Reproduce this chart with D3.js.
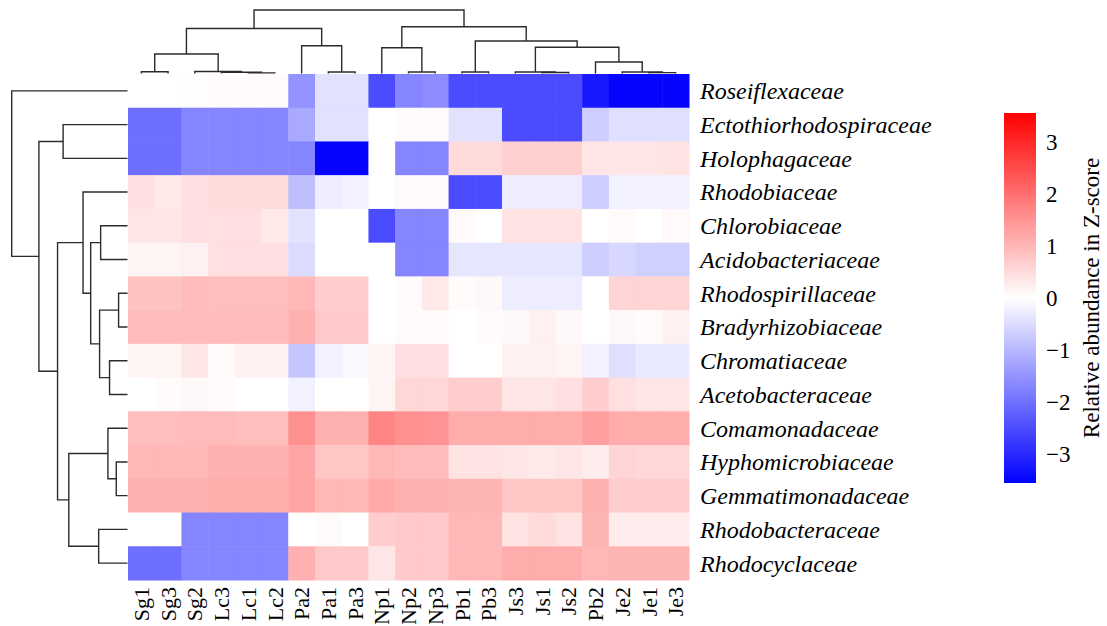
<!DOCTYPE html>
<html lang="en">
<head>
<meta charset="utf-8">
<title>Heatmap</title>
<script src="https://cdn.jsdelivr.net/npm/d3@7"></script>
<style>
  body { margin: 0; background: #fff; }
  text { font-family: "Liberation Serif", "Times New Roman", serif; fill: #000; }
  .row-label { font-style: italic; font-size: 24px; }
  .col-label { font-size: 22px; }
  .dendro path { fill: none; stroke: #2b2b2b; stroke-width: 1.4px; }
  .legend text { font-size: 23px; }
</style>
</head>
<body>
<div id="chart"></div>
<script>
// samples (column order as drawn)
var columns = ["Sg1","Sg3","Sg2","Lc3","Lc1","Lc2","Pa2","Pa1","Pa3","Np1","Np2","Np3",
               "Pb1","Pb3","Js3","Js1","Js2","Pb2","Je2","Je1","Je3"];

var families = ["Roseiflexaceae","Ectothiorhodospiraceae","Holophagaceae","Rhodobiaceae",
  "Chlorobiaceae","Acidobacteriaceae","Rhodospirillaceae","Bradyrhizobiaceae","Chromatiaceae",
  "Acetobacteraceae","Comamonadaceae","Hyphomicrobiaceae","Gemmatimonadaceae",
  "Rhodobacteraceae","Rhodocyclaceae"];

// z-scores, one row per family
var zscores = [
  [0, 0, 0.02, 0.05, 0.05, 0.05, -1.5, -0.4, -0.4, -2.5, -1.7, -1.6, -2.5, -2.5, -2.5, -2.5, -2.5, -3.2, -3.5, -3.5, -3.5],
  [-2.0, -2.0, -1.7, -1.7, -1.7, -1.7, -1.2, -0.4, -0.4, 0, 0.05, 0.05, -0.4, -0.4, -2.5, -2.5, -2.5, -0.7, -0.45, -0.45, -0.45],
  [-2.0, -2.0, -1.7, -1.7, -1.7, -1.7, -1.7, -3.5, -3.5, 0, -1.7, -1.7, 0.5, 0.5, 0.65, 0.65, 0.65, 0.35, 0.35, 0.35, 0.4],
  [0.45, 0.3, 0.45, 0.5, 0.5, 0.5, -0.9, -0.25, -0.2, 0, 0.08, 0.08, -2.5, -2.5, -0.25, -0.25, -0.25, -0.7, -0.2, -0.2, -0.2],
  [0.35, 0.35, 0.45, 0.45, 0.45, 0.3, -0.4, 0, 0, -2.5, -1.7, -1.7, 0.08, 0, 0.4, 0.4, 0.4, 0, 0.08, 0, 0.08],
  [0.15, 0.15, 0.2, 0.45, 0.45, 0.45, -0.5, 0, 0, 0, -1.7, -1.7, -0.35, -0.35, -0.35, -0.35, -0.35, -0.7, -0.55, -0.65, -0.65],
  [0.85, 0.85, 0.95, 0.9, 0.9, 0.9, 1.0, 0.7, 0.7, 0, 0.05, 0.3, 0.05, 0.1, -0.25, -0.25, -0.25, 0, 0.6, 0.6, 0.6],
  [0.95, 0.95, 0.95, 0.95, 0.95, 0.95, 1.1, 0.75, 0.75, 0, 0.05, 0.05, 0, 0.05, 0.1, 0.2, 0.1, 0, 0.1, 0.05, 0.2],
  [0.15, 0.15, 0.35, 0.05, 0.2, 0.2, -0.8, -0.2, -0.1, 0.15, 0.45, 0.45, 0, 0, 0.2, 0.2, 0.15, -0.2, -0.45, -0.3, -0.3],
  [0, 0.05, 0.1, 0.05, 0, 0, -0.2, 0, 0, 0.15, 0.55, 0.55, 0.7, 0.7, 0.35, 0.35, 0.45, 0.7, 0.45, 0.35, 0.35],
  [0.9, 0.9, 0.95, 0.95, 0.9, 0.9, 1.55, 1.1, 1.1, 1.7, 1.55, 1.5, 1.15, 1.15, 1.15, 1.15, 1.15, 1.35, 1.15, 1.15, 1.15],
  [1.0, 1.0, 1.0, 1.1, 1.1, 1.1, 1.25, 0.8, 0.8, 1.0, 0.95, 0.95, 0.4, 0.4, 0.35, 0.3, 0.35, 0.25, 0.6, 0.55, 0.55],
  [1.1, 1.1, 1.1, 1.15, 1.15, 1.15, 1.25, 1.0, 1.0, 1.2, 1.1, 1.1, 1.05, 1.05, 0.8, 0.8, 0.8, 1.1, 0.7, 0.7, 0.7],
  [0, 0, -1.7, -1.7, -1.7, -1.7, 0, 0.05, 0, 0.7, 0.75, 0.75, 1.0, 1.0, 0.4, 0.5, 0.4, 1.05, 0.25, 0.25, 0.25],
  [-2.0, -2.0, -1.7, -1.7, -1.7, -1.7, 1.1, 0.75, 0.75, 0.35, 0.75, 0.75, 1.0, 1.0, 1.15, 1.15, 1.15, 1.0, 1.05, 1.05, 1.05]
];

// clustering trees: [height, left, right], leaves are names
var colTree = [10,
  [7.09,
    [3.07, [0.28, "Sg1", "Sg3"], [0.31, "Sg2", [0.2, "Lc3", [0.1, "Lc1", "Lc2"]]]],
    [4.38, "Pa2", [0.24, "Pa1", "Pa3"]]],
  [7.37,
    [4.06, "Np1", [0.24, "Np2", "Np3"]],
    [5.12, [0.24, "Pb1", "Pb3"],
      [4.13, [0.24, "Js3", [0.16, "Js1", "Js2"]],
             [1.81, "Pb2", [0.24, "Je2", [0.14, "Je1", "Je3"]]]]]]];

var rowTree = [10, "Roseiflexaceae",
  [7.65,
    [5.56, "Ectothiorhodospiraceae", "Holophagaceae"],
    [6.04,
      [3.84, "Rhodobiaceae",
        [3.18, [2.32, "Chlorobiaceae", "Acidobacteriaceae"],
               [2.41, [0.77, "Rhodospirillaceae", "Bradyrhizobiaceae"],
                      [1.55, "Chromatiaceae", "Acetobacteraceae"]]]],
      [5.07,
        [1.69, "Comamonadaceae", [0.97, "Hyphomicrobiaceae", "Gemmatimonadaceae"]],
        [2.49, "Rhodobacteraceae", "Rhodocyclaceae"]]]]];

var legendTicks = [3, 2, 1, 0, -1, -2, -3];

var W = 1107, H = 626;
var svg = d3.select("#chart").append("svg")
    .attr("width", W).attr("height", H);

var x = d3.scaleBand().domain(columns).range([128, 689]);
var y = d3.scaleBand().domain(families).range([74, 580]);
var color = d3.scaleLinear().domain([-3.55, 0, 3.55])
    .range(["#0000ff", "#ffffff", "#ff0000"]);

// cells
var cells = [];
zscores.forEach(function(row, i) {
  row.forEach(function(v, j) {
    cells.push({ fam: families[i], col: columns[j], v: v });
  });
});

svg.append("g").selectAll("rect")
  .data(cells)
  .enter().append("rect")
    .attr("x", function(d) { return x(d.col); })
    .attr("y", function(d) { return y(d.fam); })
    .attr("width", x.bandwidth() + 0.5)
    .attr("height", y.bandwidth() + 0.5)
    .attr("fill", function(d) { return color(d.v); });

// labels
svg.append("g").selectAll("text")
  .data(families)
  .enter().append("text")
    .attr("class", "row-label")
    .attr("x", 700)
    .attr("y", function(d) { return y(d) + y.bandwidth() / 2; })
    .attr("dy", "0.35em")
    .text(function(d) { return d; });

svg.append("g").selectAll("text")
  .data(columns)
  .enter().append("text")
    .attr("class", "col-label")
    .attr("text-anchor", "end")
    .attr("transform", function(d) {
      return "translate(" + (x(d) + x.bandwidth() / 2) + ",587) rotate(-90)";
    })
    .attr("dy", "0.35em")
    .text(function(d) { return d; });

// dendrograms
function drawTree(g, tree, leafPos, hScale, horizontal) {
  function pt(p, h) { return horizontal ? [p, hScale(h)] : [hScale(h), p]; }
  function walk(node) {
    if (typeof node === "string") return { p: leafPos(node), h: 0 };
    var a = walk(node[1]), b = walk(node[2]), h = node[0];
    var pts = [pt(a.p, a.h), pt(a.p, h), pt(b.p, h), pt(b.p, b.h)];
    g.append("path").attr("d", d3.line()(pts));
    return { p: (a.p + b.p) / 2, h: h };
  }
  walk(tree);
}

var topH = d3.scaleLinear().domain([0, 10]).range([73.5, 10]);
var leftH = d3.scaleLinear().domain([0, 10]).range([127.5, 11.7]);

drawTree(svg.append("g").attr("class", "dendro"), colTree,
  function(c) { return x(c) + x.bandwidth() / 2; }, topH, true);
drawTree(svg.append("g").attr("class", "dendro"), rowTree,
  function(f) { return y(f) + y.bandwidth() / 2; }, leftH, false);

// colour key
var legend = svg.append("g").attr("class", "legend");
var grad = svg.append("defs").append("linearGradient")
    .attr("id", "zgrad")
    .attr("x1", 0).attr("y1", 1).attr("x2", 0).attr("y2", 0);
d3.range(0, 1.0001, 0.05).forEach(function(t) {
  grad.append("stop")
    .attr("offset", t)
    .attr("stop-color", color(-3.55 + t * 7.1));
});

var ly = d3.scaleLinear().domain([-3.55, 3.55]).range([483, 113]);
legend.append("rect")
    .attr("x", 1004).attr("y", 113)
    .attr("width", 32).attr("height", 370)
    .attr("fill", "url(#zgrad)");

var axis = legend.append("g")
    .attr("transform", "translate(1036,0)")
    .call(d3.axisRight(ly).tickValues(legendTicks).tickSize(0).tickPadding(10)
      .tickFormat(function(d) { return d < 0 ? "\u2212" + Math.abs(d) : d; }));
axis.select(".domain").remove();
axis.selectAll("text")
    .attr("font-family", "Liberation Serif, Times New Roman, serif")
    .attr("font-size", 22);

legend.append("text")
    .attr("transform", "translate(1091,298) rotate(-90)")
    .attr("text-anchor", "middle")
    .attr("dy", "0.35em")
    .text("Relative abundance in Z-score");
</script>
</body>
</html>
